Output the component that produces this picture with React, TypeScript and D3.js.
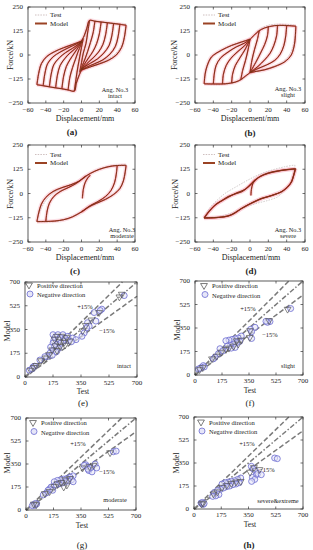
import React from 'react';
import * as d3 from 'd3';

type Pt = [number, number];

const W = 313;
const H = 550;
const FONT = '"Liberation Serif", "DejaVu Serif", serif';

const dispTicks = [-60, -40, -20, 0, 20, 40, 60];
const forceTicks = [-250, -125, 0, 125, 250];
const scatTicks = [0, 175, 350, 525, 700];

// ---- (a) intact ----
const envPosA: Pt[] = [[0, 72], [3, 100], [6, 140], [9, 180], [15, 176], [22, 172], [29, 168], [36, 164], [43, 160], [50, 155]];
const envNegA: Pt[] = [[0, -78], [-3, -110], [-6, -150], [-8, -188], [-15, -182], [-22, -176], [-29, -171], [-36, -166], [-43, -160], [-50, -155]];
const upsA: Pt[][] = [
  [[-50, -155], [-48, -95], [-45, -45], [-39, -8], [-30, 18], [-20, 38], [-10, 55], [0, 72]],
  [[-43, -160], [-41, -95], [-38, -45], [-32, -10], [-24, 15], [-15, 37], [-6, 57], [0, 72]],
  [[-36, -166], [-34, -100], [-31, -50], [-25, -15], [-18, 12], [-10, 35], [-3, 58], [0, 72]],
  [[-29, -171], [-27, -105], [-24, -55], [-19, -20], [-13, 10], [-6, 38], [0, 72]],
  [[-22, -176], [-20, -110], [-17, -60], [-13, -25], [-8, 10], [-3, 45], [0, 72]],
  [[-15, -182], [-13, -115], [-10, -65], [-7, -25], [-4, 15], [-1, 50], [1, 80]],
  [[-8, -188], [-6, -120], [-4, -60], [-2, -10], [0, 40], [2, 85]],
];
const downsA: Pt[][] = [
  [[50, 155], [48, 90], [45, 40], [39, 0], [30, -28], [20, -46], [10, -62], [0, -78]],
  [[43, 160], [41, 95], [38, 45], [32, 5], [24, -25], [15, -45], [6, -63], [0, -78]],
  [[36, 164], [34, 100], [31, 50], [25, 10], [18, -20], [10, -43], [3, -63], [0, -78]],
  [[29, 168], [27, 105], [24, 55], [19, 15], [13, -15], [6, -45], [0, -78]],
  [[22, 172], [20, 110], [17, 60], [13, 20], [8, -15], [3, -50], [0, -78]],
  [[15, 176], [13, 115], [10, 65], [7, 20], [4, -20], [1, -55], [-1, -85]],
  [[9, 180], [7, 120], [5, 60], [2, 10], [0, -40], [-2, -90]],
];
const testA: Pt[][] = [
  [[-50, -150], [-47, -85], [-43, -35], [-36, 0], [-26, 25], [-15, 45], [-5, 62], [2, 80], [6, 130], [10, 178], [20, 174], [35, 166], [50, 160]],
  [[50, 160], [48, 95], [44, 40], [37, 2], [27, -28], [16, -48], [6, -65], [-1, -82], [-5, -130], [-8, -182], [-25, -176], [-50, -150]],
];

// ---- (b) slight ----
const envPosB: Pt[] = [[0, 82], [5, 105], [9, 123], [16, 141], [27, 153], [38, 154], [50, 150]];
const envNegB: Pt[] = [[0, -92], [-5, -110], [-10, -128], [-16, -141], [-27, -150], [-38, -151], [-50, -150]];
const upsB: Pt[][] = [
  [[-50, -150], [-49, -100], [-47, -60], [-42, -10], [-31, 25], [-20, 50], [-9, 68], [0, 82]],
  [[-40, -151], [-39, -100], [-37, -55], [-32, -15], [-24, 15], [-15, 42], [-6, 62], [0, 82]],
  [[-30, -150], [-29, -100], [-26, -55], [-21, -18], [-14, 15], [-6, 48], [0, 82]],
  [[-20, -146], [-19, -100], [-16, -55], [-11, -15], [-5, 32], [0, 82]],
  [[-10, -128], [-8, -80], [-5, -30], [-2, 30], [0, 82]],
];
const downsB: Pt[][] = [
  [[50, 150], [49.5, 100], [48.5, 55], [45, 0], [38, -35], [27, -60], [16, -77], [5, -87], [0, -92]],
  [[40, 154], [39, 100], [37, 50], [33, 5], [27, -28], [18, -52], [8, -72], [0, -92]],
  [[30, 154], [29, 100], [26, 50], [22, 10], [16, -25], [9, -58], [0, -92]],
  [[20, 148], [19, 100], [16, 55], [12, 15], [7, -32], [0, -92]],
  [[10, 125], [8, 80], [5, 30], [2, -30], [0, -92]],
];
const testB: Pt[][] = [
  [[-50, -152], [-48, -85], [-44, -30], [-35, 15], [-22, 45], [-10, 66], [0, 84], [10, 132], [20, 155], [32, 160], [44, 158], [50, 154]],
  [[50, 154], [49, 95], [46, 30], [40, -20], [30, -52], [18, -72], [6, -86], [0, -96], [-10, -132], [-22, -150], [-38, -155], [-50, -152]],
];

// ---- (c) moderate ----
const upsC: Pt[][] = [
  [[-50, -145], [-48, -100], [-45, -55], [-40, -20], [-32, 10], [-22, 30], [-12, 45], [-2, 65], [5, 90], [15, 115], [25, 132], [35, 142], [45, 145], [50, 145]],
  [[-40, -143], [-38.5, -90], [-36, -50], [-31, -15], [-24, 10], [-15, 30], [-6, 52], [2, 80], [5, 90]],
];
const downsC: Pt[][] = [
  [[50, 145], [49, 110], [47, 65], [43, 25], [36, -5], [27, -30], [17, -50], [8, -70], [0, -95], [-10, -120], [-20, -135], [-30, -142], [-40, -144], [-50, -145]],
  [[40, 143], [39, 100], [37, 55], [33, 15], [27, -15], [19, -40], [10, -62], [3, -85], [0, -95]],
];
const initC: Pt[] = [[1, -25], [2, 20], [4, 55], [7, 80], [10, 95]];
const testC: Pt[][] = [
  [[-50, -145], [-46, -85], [-38, -25], [-25, 22], [-10, 50], [2, 75], [15, 118], [30, 140], [42, 148], [50, 150]],
  [[50, 150], [48, 95], [44, 40], [36, 0], [25, -32], [12, -60], [0, -92], [-15, -130], [-30, -145], [-50, -145]],
];

// ---- (d) severe ----
const upsD: Pt[][] = [
  [[-50, -127], [-45, -95], [-38, -59], [-30, -35], [-24, -16], [-15, 0], [-9, 9], [-2, 35], [5.5, 70], [12, 90], [20, 104], [30, 115], [38, 121], [49, 126]],
  [[-50, -125], [-44, -88], [-36, -52], [-26, -25], [-15, 2], [-5, 22], [3, 55], [10, 85], [20, 106], [35, 120], [50, 128]],
];
const downsD: Pt[][] = [
  [[49, 126], [48, 100], [45.5, 61], [40, 30], [34.5, 9], [27, -5], [20, -16], [12, -28], [5.5, -42], [-2, -58], [-9, -76], [-16, -98], [-24, -116], [-31, -122], [-38, -125], [-50, -127]],
  [[50, 128], [47, 85], [44, 50], [36, 14], [24, -10], [12, -26], [2, -48], [-10, -80], [-20, -110], [-32, -122], [-50, -125]],
];
const initD: Pt[] = [[1, -10], [1.5, 20], [3, 50], [5.5, 70]];
const testD: Pt[][] = [
  [[-50, -125], [-44, -75], [-36, -35], [-27, 1], [-15, 35], [-2, 70], [10, 98], [24, 121], [38, 138], [49, 147]],
  [[49, 147], [48, 110], [45, 60], [38, 20], [31, -15], [20, -35], [8, -50], [-5, -70], [-20, -100], [-35, -120], [-50, -125]],
];

// ---- scatter (e)-(h): [test, model] ----
const negE: Pt[] = [[620, 600], [480, 500], [470, 490], [432, 475], [443, 412], [391, 400], [401, 375], [385, 362], [370, 325], [356, 300], [175, 312], [206, 312], [237, 312], [268, 300], [298, 287], [319, 275], [190, 295], [220, 290], [250, 285], [180, 270], [210, 275], [240, 265], [270, 270], [290, 260], [175, 250], [200, 240], [225, 250], [160, 220], [185, 225], [210, 210], [175, 195], [195, 185], [155, 175], [170, 160], [140, 150], [124, 150], [93, 125], [51, 75], [27, 50], [60, 80], [45, 60]];
const posE: Pt[] = [[590, 590], [605, 610], [463, 475], [415, 420], [380, 380], [360, 340], [200, 300], [230, 300], [260, 290], [185, 280], [215, 260], [245, 255], [280, 265], [190, 230], [220, 225], [250, 235], [170, 200], [200, 195], [150, 165], [130, 140], [100, 120], [55, 70], [35, 50], [70, 85]];
const negF: Pt[] = [[620, 495], [486, 398], [470, 392], [460, 400], [389, 355], [360, 340], [367, 322], [367, 272], [300, 290], [280, 275], [260, 270], [240, 265], [220, 260], [200, 255], [290, 250], [270, 240], [250, 230], [230, 220], [210, 215], [260, 205], [235, 200], [162, 196], [151, 158], [180, 180], [130, 133], [119, 120], [43, 58], [54, 70], [22, 45], [60, 60], [35, 50]];
const posF: Pt[] = [[600, 490], [480, 405], [356, 330], [355, 280], [300, 260], [280, 230], [250, 215], [220, 200], [200, 190], [270, 255], [170, 170], [140, 140], [110, 120], [50, 55], [30, 40]];
const negG: Pt[] = [[556, 443], [574, 448], [380, 345], [390, 330], [400, 300], [420, 290], [440, 350], [450, 320], [410, 320], [395, 310], [370, 340], [300, 260], [280, 250], [260, 240], [240, 235], [220, 230], [200, 225], [180, 215], [290, 230], [270, 220], [250, 215], [230, 205], [210, 200], [190, 190], [160, 175], [150, 160], [140, 150], [170, 150], [130, 130], [110, 115], [300, 215], [47, 40], [55, 35], [68, 46], [60, 50], [40, 33]];
const posG: Pt[] = [[535, 436], [430, 340], [405, 330], [360, 320], [280, 240], [250, 230], [225, 210], [200, 200], [180, 180], [260, 190], [240, 175], [150, 140], [120, 125], [50, 45], [65, 40]];
const negH: Pt[] = [[518, 388], [535, 383], [368, 325], [380, 305], [395, 290], [400, 260], [375, 240], [390, 225], [410, 270], [370, 210], [432, 261], [300, 236], [280, 225], [260, 215], [240, 210], [220, 205], [200, 200], [180, 190], [290, 200], [270, 190], [250, 185], [230, 175], [210, 170], [190, 160], [170, 150], [150, 140], [130, 125], [160, 110], [140, 100], [120, 96], [50, 40], [60, 35], [45, 46], [55, 50], [65, 42]];
const posH: Pt[] = [[420, 300], [385, 315], [360, 280], [300, 210], [270, 205], [240, 195], [210, 180], [180, 165], [150, 130], [125, 115], [48, 38], [58, 44]];

const refSlopes = [1.15, 1, 0.85];

const hystPanels = [
  { box: [28, 135, 7, 103], tag: '(a)', tagPos: [72, 132], bold: true, state: 'intact', statePos: [115, 89], ylab: [10, 55], xlab: [85, 118], leg: [35, 15], model: [envPosA, envNegA, ...upsA, ...downsA], test: testA },
  { box: [195, 305, 7, 103], tag: '(b)', tagPos: [250, 133], bold: true, state: 'slight', statePos: [288, 88.5], ylab: [174, 55], xlab: [250, 118], leg: [203, 15], model: [envPosB, envNegB, ...upsB, ...downsB], test: testB },
  { box: [28, 135, 145, 242], tag: '(c)', tagPos: [75, 271], bold: true, state: 'moderate', statePos: [122, 229.5], ylab: [10, 194], xlab: [85, 257], leg: [35, 154.5], model: [...upsC, ...downsC, initC], test: testC },
  { box: [195, 305, 145, 242], tag: '(d)', tagPos: [251, 271], bold: true, state: 'severe', statePos: [288, 229.5], ylab: [175, 194], xlab: [251, 257], leg: [203, 154.5], model: [...upsD, ...downsD, initD], test: testD },
];

const scatPanels = [
  { box: [25, 137, 282, 377], tag: '(e)', tagPos: [83, 403], bold: false, state: 'intact', statePos: [124, 365], ylab: [7, 331], xlab: [83, 390], leg: [29, 285], plus: [85, 306.5], minus: [107, 330.5], pos: posE, neg: negE },
  { box: [195, 303, 281, 375], tag: '(f)', tagPos: [250, 403], bold: false, state: 'slight', statePos: [288, 365], ylab: [177, 330], xlab: [250, 389], leg: [204, 285.5], plus: [248, 308], minus: [270, 334], pos: posF, neg: negF },
  { box: [26, 136, 418, 510], tag: '(g)', tagPos: [82, 545], bold: false, state: 'moderate', statePos: [115, 499], ylab: [7, 463], xlab: [82, 524], leg: [33, 422.5], plus: [78, 443.5], minus: [107, 471.5], pos: posG, neg: negG },
  { box: [194, 303, 417, 509], tag: '(h)', tagPos: [249, 545], bold: true, state: 'severe&extreme', statePos: [278, 500], ylab: [176, 463], xlab: [250, 523], leg: [201, 422], plus: [247, 443.5], minus: [267, 469.5], pos: posH, neg: negH },
];

function Frame({ x, y, xt, yt, x0, x1, y0, y1, tickLab }: any) {
  return (
    <g>
      <rect x={x0} y={y0} width={x1 - x0} height={y1 - y0} fill="none" stroke="#333" strokeWidth={0.8} />
      {xt.map((t: number) => (
        <g key={'x' + t}>
          <line x1={x(t)} x2={x(t)} y1={y1} y2={y1 - 2.5} stroke="#333" strokeWidth={0.7} />
          <line x1={x(t)} x2={x(t)} y1={y0} y2={y0 + 2.5} stroke="#333" strokeWidth={0.7} />
          <text x={x(t)} y={y1 + tickLab} textAnchor="middle" dominantBaseline="central" fontSize={7}>
            {t < 0 ? '\u2212' + Math.abs(t) : t}
          </text>
        </g>
      ))}
      {yt.map((t: number) => (
        <g key={'y' + t}>
          <line x1={x0} x2={x0 + 2.5} y1={y(t)} y2={y(t)} stroke="#333" strokeWidth={0.7} />
          <line x1={x1} x2={x1 - 2.5} y1={y(t)} y2={y(t)} stroke="#333" strokeWidth={0.7} />
          <text x={x0 - 5} y={y(t)} textAnchor="end" dominantBaseline="central" fontSize={7}>
            {t < 0 ? '\u2212' + Math.abs(t) : t}
          </text>
        </g>
      ))}
    </g>
  );
}

function Hyst({ p }: any) {
  const [x0, x1, y0, y1] = p.box;
  const x = d3.scaleLinear().domain([-60, 60]).range([x0, x1]);
  const y = d3.scaleLinear().domain([-250, 250]).range([y1, y0]);
  const ln = d3.line<Pt>().x(d => x(d[0])).y(d => y(d[1])).curve(d3.curveCatmullRom.alpha(0.5));
  const [lx, ly] = p.leg;
  return (
    <g>
      {p.model.map((c: Pt[], i: number) => (
        <path key={'h' + i} d={ln(c) || ''} fill="none" stroke="#f4b3c2" strokeWidth={4} strokeOpacity={0.4} />
      ))}
      {p.test.map((c: Pt[], i: number) => (
        <path key={'t' + i} d={ln(c) || ''} fill="none" stroke="#c8c0c0" strokeWidth={0.8} strokeDasharray="1.5,1.2" />
      ))}
      {p.model.map((c: Pt[], i: number) => (
        <path key={'r' + i} d={ln(c) || ''} fill="none" stroke="#e5292f" strokeWidth={1.4} strokeOpacity={0.6} />
      ))}
      {p.model.map((c: Pt[], i: number) => (
        <path key={'m' + i} d={ln(c) || ''} fill="none" stroke="#7c3218" strokeWidth={1} />
      ))}
      <Frame x={x} y={y} xt={dispTicks} yt={forceTicks} x0={x0} x1={x1} y0={y0} y1={y1} tickLab={7} />
      <line x1={lx} x2={lx + 12} y1={ly} y2={ly} stroke="#c8b8b8" strokeWidth={0.9} strokeDasharray="1.5,1.2" />
      <text x={lx + 15} y={ly} dominantBaseline="central" fontSize={7}>Test</text>
      <line x1={lx} x2={lx + 12} y1={ly + 8.5} y2={ly + 8.5} stroke="#9a4324" strokeWidth={2} />
      <text x={lx + 15} y={ly + 8.5} dominantBaseline="central" fontSize={7}>Model</text>
      <text x={p.statePos[0]} y={p.statePos[1]} textAnchor="middle" dominantBaseline="central" fontSize={6.3}>Ang. No.3</text>
      <text x={p.statePos[0]} y={p.statePos[1] + 6.3} textAnchor="middle" dominantBaseline="central" fontSize={6.3}>{p.state}</text>
      <text x={p.xlab[0]} y={p.xlab[1]} textAnchor="middle" dominantBaseline="central" fontSize={8}>Displacement/mm</text>
      <text transform={`translate(${p.ylab[0]},${p.ylab[1]}) rotate(-90)`} textAnchor="middle" dominantBaseline="central" fontSize={8}>Force/kN</text>
      <text x={p.tagPos[0]} y={p.tagPos[1]} textAnchor="middle" dominantBaseline="central" fontSize={9} fontWeight={p.bold ? 'bold' : 'normal'}>{p.tag}</text>
    </g>
  );
}

function Scatter({ p }: any) {
  const [x0, x1, y0, y1] = p.box;
  const x = d3.scaleLinear().domain([0, 700]).range([x0, x1]);
  const y = d3.scaleLinear().domain([0, 700]).range([y1, y0]);
  const tri = d3.symbol().type(d3.symbolTriangle).size(20)() || '';
  const dashes: Record<string, string> = { '1': '5,2,1.5,2' };
  const [lx, ly] = p.leg;
  return (
    <g>
      {refSlopes.map(k => {
        const end: Pt = k >= 1 ? [700 / k, 700] : [700, 700 * k];
        return (
          <line key={k} x1={x(0)} y1={y(0)} x2={x(end[0])} y2={y(end[1])} stroke="#7a7a7a" strokeWidth={1.5}
            strokeDasharray={dashes[String(k)] || '5,2.5'} />
        );
      })}
      {p.neg.map((d: Pt, i: number) => (
        <circle key={'n' + i} cx={x(d[0])} cy={y(d[1])} r={3} fill="#e6e6f8" fillOpacity={0.6} stroke="#6b6bd0" strokeWidth={0.8} />
      ))}
      {p.pos.map((d: Pt, i: number) => (
        <path key={'p' + i} d={tri} transform={`translate(${x(d[0])},${y(d[1])}) rotate(180)`} fill="none" stroke="#555" strokeWidth={0.7} />
      ))}
      <Frame x={x} y={y} xt={scatTicks} yt={scatTicks} x0={x0} x1={x1} y0={y0} y1={y1} tickLab={5.5} />
      <path d={tri} transform={`translate(${lx},${ly}) rotate(180)`} fill="none" stroke="#444" strokeWidth={0.7} />
      <text x={lx + 8} y={ly} dominantBaseline="central" fontSize={6.5}>Positive  direction</text>
      <circle cx={lx + 1} cy={ly + 9} r={3} fill="#e6e6f8" stroke="#6b6bd0" strokeWidth={0.8} />
      <text x={lx + 8} y={ly + 9.5} dominantBaseline="central" fontSize={6.5}>Negative  direction</text>
      <text x={p.plus[0]} y={p.plus[1]} textAnchor="middle" dominantBaseline="central" fontSize={6.5}>+15%</text>
      <text x={p.minus[0]} y={p.minus[1]} textAnchor="middle" dominantBaseline="central" fontSize={6.5}>{'\u221215%'}</text>
      <text x={p.statePos[0]} y={p.statePos[1]} textAnchor="middle" dominantBaseline="central" fontSize={6.3}>{p.state}</text>
      <text x={p.xlab[0]} y={p.xlab[1] + 1} textAnchor="middle" dominantBaseline="central" fontSize={7.5}>Test</text>
      <text transform={`translate(${p.ylab[0]},${p.ylab[1]}) rotate(-90)`} textAnchor="middle" dominantBaseline="central" fontSize={8}>Model</text>
      <text x={p.tagPos[0]} y={p.tagPos[1]} textAnchor="middle" dominantBaseline="central" fontSize={9} fontWeight={p.bold ? 'bold' : 'normal'}>{p.tag}</text>
    </g>
  );
}

export default function App() {
  return (
    <svg width={W} height={H} viewBox={`0 0 ${W} ${H}`}
      style={{ position: 'absolute', left: 0, top: 0, background: '#fff', fontFamily: FONT }}
      fill="#222">
      {hystPanels.map(p => <Hyst key={p.tag} p={p} />)}
      {scatPanels.map(p => <Scatter key={p.tag} p={p} />)}
    </svg>
  );
}
